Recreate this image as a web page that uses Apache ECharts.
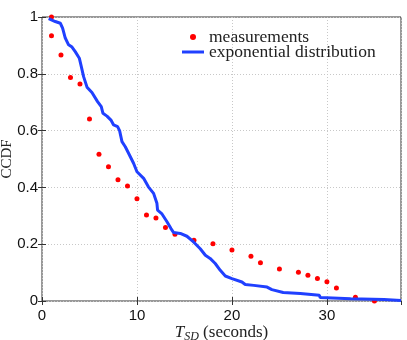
<!DOCTYPE html>
<html lang="en">
<head>
    <meta charset="UTF-8">
    <title>CCDF</title>
    <style>
        html, body { margin: 0; padding: 0; background: #fff; }
        #main { width: 407px; height: 340px; }
    </style>
</head>
<body>
<div id="main"></div>
<script src="https://cdn.jsdelivr.net/npm/echarts@6/dist/echarts.min.js"></script>
<script>
    // measured points (T_SD seconds, CCDF)
    var measX = [1, 1, 2, 3, 4, 5, 6, 7, 8, 9, 10, 11, 12, 13, 14, 16, 18, 20, 22, 23, 25, 27, 28, 29, 30, 31, 33, 35];
    var measY = [1.0, 0.934, 0.866, 0.787, 0.764, 0.641, 0.517, 0.473, 0.427, 0.405, 0.36, 0.303, 0.292, 0.259, 0.235,
        0.214, 0.202, 0.18, 0.158, 0.135, 0.113, 0.101, 0.091, 0.079, 0.068, 0.046, 0.013, 0.0];

    // exponential distribution curve
    var expX = [0.7, 1.4, 1.93, 2.17, 2.45, 2.8, 3.16, 3.5, 3.93, 4.14, 4.38, 4.74, 5.26, 5.85, 6.24, 6.42, 6.84, 7.26,
        7.54, 7.96, 8.17, 8.42, 8.77, 9.3, 9.64, 10.0, 10.7, 11.2, 11.75, 12.1, 12.17, 12.6, 13.16, 13.58, 13.86, 14.56,
        15.26, 15.96, 16.66, 17.2, 17.7, 18.24, 18.77, 19.3, 20.0, 21.05, 21.4, 22.3, 23.7, 24.2, 25.4, 27.2, 29.2, 29.3,
        32.5, 36.0, 37.8];
    var expY = [0.994, 0.984, 0.978, 0.961, 0.926, 0.902, 0.894, 0.878, 0.855, 0.825, 0.79, 0.753, 0.734, 0.702, 0.684,
        0.661, 0.651, 0.637, 0.62, 0.614, 0.6, 0.561, 0.543, 0.508, 0.485, 0.455, 0.432, 0.402, 0.379, 0.344, 0.32,
        0.308, 0.279, 0.255, 0.241, 0.238, 0.228, 0.208, 0.184, 0.161, 0.15, 0.132, 0.108, 0.088, 0.079, 0.067, 0.058,
        0.055, 0.049, 0.04, 0.03, 0.026, 0.02, 0.012, 0.008, 0.005, 0.002];

    var xTicks = [0, 10, 20, 30];
    var yTicks = [0, 0.2, 0.4, 0.6, 0.8, 1];

    function pairs(xs, ys) {
        var out = [];
        for (var i = 0; i < xs.length; i++) out.push([xs[i], ys[i]]);
        return out;
    }

    var sans = 'Liberation Sans, Arial, sans-serif';
    var serif = 'Liberation Serif, Times New Roman, serif';
    var frame = '#333';
    var blue = '#2040ff';

    var option = {
        animation: false,
        backgroundColor: '#fff',
        grid: {left: 42, right: 6, top: 17, bottom: 39, show: true, borderColor: frame, borderWidth: 1,
            outerBoundsMode: 'none', containLabel: false},
        legend: {
            left: 182, top: 28, orient: 'vertical', padding: 0,
            itemWidth: 22, itemHeight: 6, itemGap: -3,
            textStyle: {fontFamily: serif, fontSize: 17.5, color: '#222', lineHeight: 15},
            data: [
                {name: 'measurements', icon: 'circle'},
                {name: 'exponential distribution', icon: 'path://M0,0 L22,0 L22,3 L0,3 Z'}
            ]
        },
        xAxis: [{
            type: 'value', min: 0, max: 37.8, interval: 10,
            name: '{i|T}{s|SD} (seconds)', nameLocation: 'middle', nameGap: 21, nameMoveOverlap: false,
            nameTextStyle: {
                fontFamily: serif, fontSize: 17, color: '#222',
                rich: {
                    i: {fontFamily: serif, fontSize: 17, fontStyle: 'italic', color: '#222'},
                    s: {fontFamily: serif, fontSize: 12, fontStyle: 'italic', color: '#222', padding: [9, 0, 0, 0]}
                }
            },
            axisLine: {show: false},
            axisTick: {inside: true, length: 4, lineStyle: {color: frame}},
            axisLabel: {fontFamily: sans, fontSize: 15, color: '#111', margin: 7, showMaxLabel: false},
            splitLine: {show: true, lineStyle: {color: '#c8c8c8', type: [1, 2]}}
        }, {
            type: 'value', position: 'top', min: 0, max: 37.8, interval: 10,
            axisLine: {show: false},
            axisTick: {inside: true, length: 4, lineStyle: {color: frame}},
            axisLabel: {show: false}, splitLine: {show: false}
        }],
        yAxis: [{
            type: 'value', min: 0, max: 1, interval: 0.2,
            name: 'CCDF', nameLocation: 'middle', nameGap: 27, nameRotate: 90, nameMoveOverlap: false,
            nameTextStyle: {fontFamily: serif, fontSize: 15, color: '#222'},
            axisLine: {show: false},
            axisTick: {inside: true, length: 4, lineStyle: {color: frame}},
            axisLabel: {fontFamily: sans, fontSize: 15, color: '#111', margin: 4},
            splitLine: {show: true, lineStyle: {color: '#c8c8c8', type: [1, 2]}}
        }, {
            type: 'value', position: 'right', min: 0, max: 1, interval: 0.2,
            axisLine: {show: false},
            axisTick: {inside: true, length: 4, lineStyle: {color: frame}},
            axisLabel: {show: false}, splitLine: {show: false}
        }],
        series: [{
            name: 'measurements', type: 'scatter', symbol: 'circle', symbolSize: 5,
            itemStyle: {color: '#ff0000', opacity: 1},
            data: pairs(measX, measY)
        }, {
            name: 'exponential distribution', type: 'line', symbol: 'none',
            lineStyle: {color: blue, width: 3},
            itemStyle: {color: blue},
            data: pairs(expX, expY)
        }]
    };

    var chart = echarts.init(document.getElementById('main'), null, {renderer: 'canvas'});
    chart.setOption(option);
</script>
</body>
</html>
